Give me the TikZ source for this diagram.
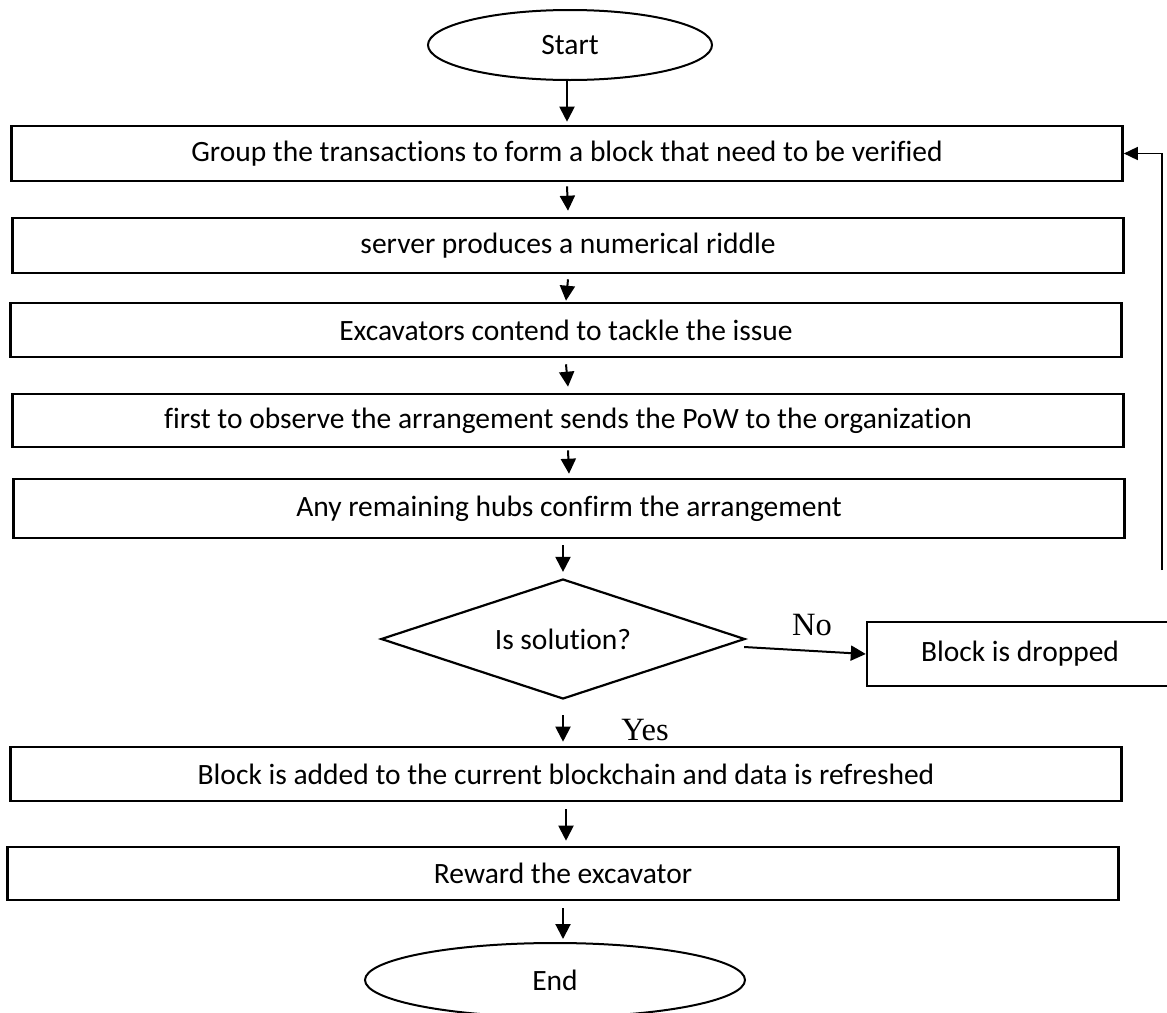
\documentclass[tikz,border=0pt]{standalone}
\usepackage{fontspec}
\setmainfont{Carlito}[Ligatures={NoCommon}]
\newfontfamily\labelfont{Liberation Serif}
\usetikzlibrary{shapes.geometric,arrows.meta}

\begin{document}
\begin{tikzpicture}[x=1pt,y=-1pt,
  every node/.style={font=\fontsize{29.5}{33}\selectfont},
  stepbox/.style={draw,line width=2.6pt,rectangle,minimum width=1111pt,minimum height=55pt,inner sep=0pt},
  terminal/.style={draw,line width=2pt,ellipse,inner sep=0pt},
  decision/.style={draw,line width=2.2pt,diamond,aspect=3.03,minimum width=364pt,minimum height=120pt,inner sep=0pt},
  arr/.style={line width=2pt,-{Triangle[length=15pt,width=15pt]}},
  answer/.style={font=\labelfont\fontsize{32.5}{36}\selectfont}]

\clip (0,0) rectangle (1167,1012);
\fill[white] (0,0) rectangle (1167,1012);

% start / end terminals
\node[terminal,minimum width=284pt,minimum height=70pt] (start) at (570,45) {Start};

% process steps
\node[stepbox] (b1) at (567,153.5) {Group the transactions to form a block that need to be verified};
\node[stepbox] (b2) at (568,245.5) {server produces a numerical riddle};
\node[stepbox,minimum height=54pt] (b3) at (566,330) {Excavators contend to tackle the issue};
\node[stepbox,minimum height=53pt] (b4) at (568,420.5) {first to observe the arrangement sends the PoW to the organization};
\node[stepbox,minimum height=59pt] (b5) at (569,508.5) {Any remaining hubs confirm the arrangement};

% decision and rejection branch
\node[decision] (d) at (563,639) {Is solution?};
\node[draw,line width=2.4pt,rectangle,minimum width=306pt,minimum height=64pt,inner sep=0pt] (drop) at (1020,654) {Block is dropped};

\node[stepbox,minimum height=54pt] (b6) at (566,774) {Block is added to the current blockchain and data is refreshed};
\node[stepbox,minimum height=53pt] (b7) at (563,873.5) {Reward the excavator};

\node[terminal,minimum width=380pt,minimum height=74pt] (end) at (555,980) {End};

% loop-back line
\coordinate (fb) at (1162,570);

% connectors
\draw[arr] ([yshift=2pt]start.south -| b1.north) -- ([yshift=3pt]b1.north);
\draw[arr] ([yshift=-4pt]b1.south) -- ([yshift=6pt]b2.north);
\draw[arr] ([yshift=-5pt]b2.south) -- ([yshift=1pt]b3.north);
\draw[arr] ([yshift=-6pt]b3.south) -- ([yshift=6pt]b4.north);
\draw[arr] ([yshift=-2pt]b4.south) -- ([yshift=4pt]b5.north);
\draw[arr] ([yshift=-6pt]b5.south -| d.north) -- ([yshift=6pt]d.north);
\draw[arr] ([xshift=-2pt,yshift=-8pt]d.east) -- (drop.west);
\draw[arr] ([yshift=-15pt]d.south) -- ([yshift=4pt]b6.north -| d.south);
\draw[arr] ([yshift=-7pt]b6.south) -- ([yshift=5pt]b7.north -| b6.south);
\draw[arr] ([yshift=-7pt]b7.south) -- ([yshift=3pt]end.north -| b7.south);
\draw[line width=1.5pt,-{Triangle[length=14pt,width=13pt]}] (fb) |- (b1.east);

% branch labels
\node[answer] (no) at (812,625) {No};
\node[answer] (yes) at (645,730) {Yes};

\end{tikzpicture}
\end{document}
